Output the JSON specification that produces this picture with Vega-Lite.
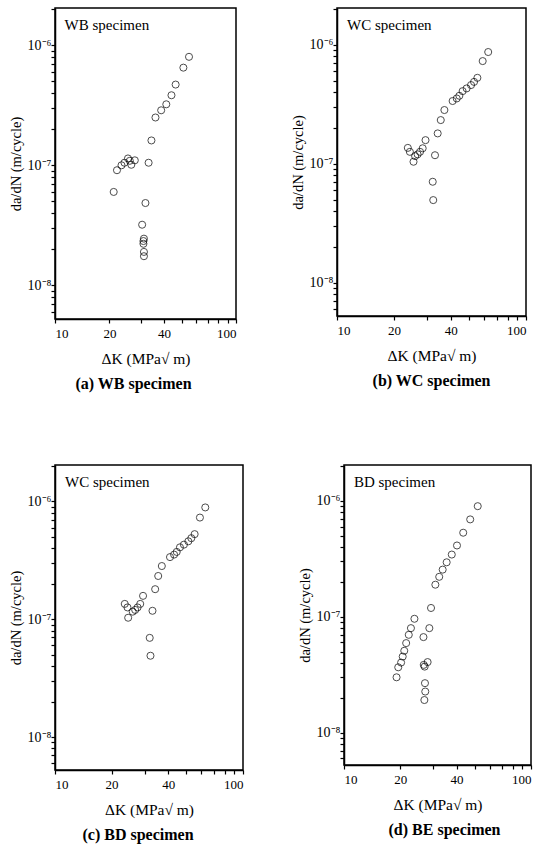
{
  "$schema": "https://vega.github.io/schema/vega-lite/v6.json",
  "background": "white",
  "padding": {"left": 7, "top": 7, "right": 5, "bottom": 5},
  "datasets": {
    "pts": [
      {"p": "a", "dK": 21.1, "rate": 6.0e-8},
      {"p": "a", "dK": 22.0, "rate": 9.1e-8},
      {"p": "a", "dK": 23.3, "rate": 1.0e-7},
      {"p": "a", "dK": 24.2, "rate": 1.05e-7},
      {"p": "a", "dK": 25.3, "rate": 1.14e-7},
      {"p": "a", "dK": 25.9, "rate": 1.09e-7},
      {"p": "a", "dK": 26.4, "rate": 1.01e-7},
      {"p": "a", "dK": 27.6, "rate": 1.1e-7},
      {"p": "a", "dK": 32.9, "rate": 1.05e-7},
      {"p": "a", "dK": 34.1, "rate": 1.61e-7},
      {"p": "a", "dK": 35.9, "rate": 2.5e-7},
      {"p": "a", "dK": 38.6, "rate": 2.87e-7},
      {"p": "a", "dK": 41.2, "rate": 3.22e-7},
      {"p": "a", "dK": 44.0, "rate": 3.83e-7},
      {"p": "a", "dK": 46.4, "rate": 4.7e-7},
      {"p": "a", "dK": 51.2, "rate": 6.5e-7},
      {"p": "a", "dK": 55.0, "rate": 8.0e-7},
      {"p": "a", "dK": 31.6, "rate": 4.85e-8},
      {"p": "a", "dK": 30.3, "rate": 3.2e-8},
      {"p": "a", "dK": 31.0, "rate": 2.45e-8},
      {"p": "a", "dK": 30.8, "rate": 2.34e-8},
      {"p": "a", "dK": 30.8, "rate": 2.22e-8},
      {"p": "a", "dK": 31.0, "rate": 1.9e-8},
      {"p": "a", "dK": 31.0, "rate": 1.75e-8},

      {"p": "b", "dK": 23.7, "rate": 1.36e-7},
      {"p": "b", "dK": 24.3, "rate": 1.26e-7},
      {"p": "b", "dK": 25.4, "rate": 1.04e-7},
      {"p": "b", "dK": 25.9, "rate": 1.16e-7},
      {"p": "b", "dK": 26.7, "rate": 1.2e-7},
      {"p": "b", "dK": 27.5, "rate": 1.26e-7},
      {"p": "b", "dK": 28.4, "rate": 1.35e-7},
      {"p": "b", "dK": 29.4, "rate": 1.58e-7},
      {"p": "b", "dK": 33.0, "rate": 1.18e-7},
      {"p": "b", "dK": 32.1, "rate": 7.06e-8},
      {"p": "b", "dK": 32.3, "rate": 4.95e-8},
      {"p": "b", "dK": 34.1, "rate": 1.8e-7},
      {"p": "b", "dK": 35.4, "rate": 2.33e-7},
      {"p": "b", "dK": 37.0, "rate": 2.83e-7},
      {"p": "b", "dK": 40.9, "rate": 3.37e-7},
      {"p": "b", "dK": 43.0, "rate": 3.54e-7},
      {"p": "b", "dK": 44.4, "rate": 3.73e-7},
      {"p": "b", "dK": 46.2, "rate": 4.08e-7},
      {"p": "b", "dK": 48.5, "rate": 4.3e-7},
      {"p": "b", "dK": 51.2, "rate": 4.59e-7},
      {"p": "b", "dK": 53.1, "rate": 4.88e-7},
      {"p": "b", "dK": 55.3, "rate": 5.28e-7},
      {"p": "b", "dK": 59.0, "rate": 7.3e-7},
      {"p": "b", "dK": 63.1, "rate": 8.7e-7},

      {"p": "c", "dK": 23.5, "rate": 1.35e-7},
      {"p": "c", "dK": 24.3, "rate": 1.26e-7},
      {"p": "c", "dK": 24.5, "rate": 1.03e-7},
      {"p": "c", "dK": 25.9, "rate": 1.16e-7},
      {"p": "c", "dK": 26.7, "rate": 1.2e-7},
      {"p": "c", "dK": 27.5, "rate": 1.26e-7},
      {"p": "c", "dK": 28.4, "rate": 1.35e-7},
      {"p": "c", "dK": 29.4, "rate": 1.58e-7},
      {"p": "c", "dK": 33.0, "rate": 1.18e-7},
      {"p": "c", "dK": 31.9, "rate": 6.95e-8},
      {"p": "c", "dK": 32.2, "rate": 4.9e-8},
      {"p": "c", "dK": 34.1, "rate": 1.8e-7},
      {"p": "c", "dK": 35.4, "rate": 2.33e-7},
      {"p": "c", "dK": 37.0, "rate": 2.83e-7},
      {"p": "c", "dK": 40.9, "rate": 3.37e-7},
      {"p": "c", "dK": 43.0, "rate": 3.54e-7},
      {"p": "c", "dK": 44.4, "rate": 3.73e-7},
      {"p": "c", "dK": 46.2, "rate": 4.08e-7},
      {"p": "c", "dK": 48.5, "rate": 4.3e-7},
      {"p": "c", "dK": 51.2, "rate": 4.59e-7},
      {"p": "c", "dK": 53.1, "rate": 4.88e-7},
      {"p": "c", "dK": 55.3, "rate": 5.28e-7},
      {"p": "c", "dK": 59.0, "rate": 7.3e-7},
      {"p": "c", "dK": 63.0, "rate": 8.9e-7},

      {"p": "d", "dK": 19.1, "rate": 3.0e-8},
      {"p": "d", "dK": 19.5, "rate": 3.66e-8},
      {"p": "d", "dK": 20.2, "rate": 4.02e-8},
      {"p": "d", "dK": 20.6, "rate": 4.53e-8},
      {"p": "d", "dK": 21.0, "rate": 5.08e-8},
      {"p": "d", "dK": 21.5, "rate": 5.92e-8},
      {"p": "d", "dK": 22.2, "rate": 6.98e-8},
      {"p": "d", "dK": 22.8, "rate": 7.97e-8},
      {"p": "d", "dK": 23.8, "rate": 9.6e-8},
      {"p": "d", "dK": 26.6, "rate": 6.67e-8},
      {"p": "d", "dK": 28.6, "rate": 7.97e-8},
      {"p": "d", "dK": 29.2, "rate": 1.19e-7},
      {"p": "d", "dK": 26.7, "rate": 3.84e-8},
      {"p": "d", "dK": 27.0, "rate": 3.71e-8},
      {"p": "d", "dK": 28.0, "rate": 4.06e-8},
      {"p": "d", "dK": 27.1, "rate": 2.67e-8},
      {"p": "d", "dK": 27.2, "rate": 2.26e-8},
      {"p": "d", "dK": 26.9, "rate": 1.91e-8},
      {"p": "d", "dK": 30.8, "rate": 1.89e-7},
      {"p": "d", "dK": 32.3, "rate": 2.21e-7},
      {"p": "d", "dK": 33.7, "rate": 2.55e-7},
      {"p": "d", "dK": 35.4, "rate": 2.95e-7},
      {"p": "d", "dK": 37.7, "rate": 3.44e-7},
      {"p": "d", "dK": 40.2, "rate": 4.12e-7},
      {"p": "d", "dK": 43.4, "rate": 5.31e-7},
      {"p": "d", "dK": 47.3, "rate": 6.92e-7},
      {"p": "d", "dK": 51.9, "rate": 9.0e-7}
    ]
  },
  "config": {
    "font": "Liberation Serif",
    "view": {"stroke": "black", "strokeWidth": 1.5},
    "axis": {
      "grid": false,
      "ticks": true,
      "zindex": 1,
      "domainColor": "black",
      "domainWidth": 1.5,
      "tickColor": "black",
      "tickWidth": 1.2,
      "tickSize": 4,
      "labelFont": "Liberation Serif",
      "labelColor": "black",
      "titleFont": "Liberation Serif",
      "titleColor": "black",
      "titleFontWeight": "normal"
    },
    "axisX": {"labelPadding": 4, "titlePadding": 11, "labelFontSize": 13, "titleFontSize": 15.5},
    "axisY": {"labelPadding": 0, "titlePadding": 4, "labelFontSize": 14, "titleFontSize": 14.5},
    "title": {"font": "Liberation Serif", "fontSize": 16, "fontWeight": "bold", "color": "black"}
  },
  "vconcat": [
    {
      "hconcat": [
        {
          "width": 181, "height": 311,
          "title": {"text": "(a) WB specimen", "orient": "bottom", "frame": "group", "dx": -12, "offset": 9},
          "layer": [
            {
              "data": {"name": "pts"},
              "transform": [{"filter": "datum.p == 'a'"}],
              "mark": {"type": "point", "shape": "circle", "filled": false, "stroke": "black", "strokeWidth": 1, "size": 50},
              "encoding": {
                "x": {"field": "dK", "type": "quantitative", "scale": {"type": "log", "domain": [10, 100], "nice": false},
                  "axis": {"title": "ΔK (MPa√ m)", "values": [10, 20, 30, 40, 50, 60, 70, 80, 90, 100], "labelExpr": "indexof([10,20,40,100], datum.value) >= 0 ? datum.value : ''"}},
                "y": {"field": "rate", "type": "quantitative", "scale": {"type": "log", "domain": [5.25e-9, 2.04e-6], "nice": false},
                  "axis": {"title": "da/dN (m/cycle)", "values": [6e-9, 7e-9, 8e-9, 9e-9, 1e-8, 2e-8, 3e-8, 4e-8, 5e-8, 6e-8, 7e-8, 8e-8, 9e-8, 1e-7, 2e-7, 3e-7, 4e-7, 5e-7, 6e-7, 7e-7, 8e-7, 9e-7, 1e-6, 2e-6], "labelExpr": "abs(datum.value - 1e-8) < 1e-10 ? '10⁻⁸' : abs(datum.value - 1e-7) < 1e-9 ? '10⁻⁷' : abs(datum.value - 1e-6) < 1e-8 ? '10⁻⁶' : ''"}}
              }
            },
            {
              "data": {"values": [{"label": "WB specimen"}]},
              "mark": {"type": "text", "align": "left", "baseline": "middle", "fontSize": 15, "color": "black"},
              "encoding": {"x": {"datum": 11.3}, "y": {"datum": 1.47e-6}, "text": {"field": "label"}}
            }
          ]
        },
        {
          "width": 189, "height": 308,
          "title": {"text": "(b) WC specimen", "orient": "bottom", "frame": "group", "dx": 0, "offset": 9},
          "layer": [
            {
              "data": {"name": "pts"},
              "transform": [{"filter": "datum.p == 'b'"}],
              "mark": {"type": "point", "shape": "circle", "filled": false, "stroke": "black", "strokeWidth": 1, "size": 50},
              "encoding": {
                "x": {"field": "dK", "type": "quantitative", "scale": {"type": "log", "domain": [10, 100], "nice": false},
                  "axis": {"title": "ΔK (MPa√ m)", "values": [10, 20, 30, 40, 50, 60, 70, 80, 90, 100], "labelExpr": "indexof([10,20,40,100], datum.value) >= 0 ? datum.value : ''"}},
                "y": {"field": "rate", "type": "quantitative", "scale": {"type": "log", "domain": [5.25e-9, 2.04e-6], "nice": false},
                  "axis": {"title": "da/dN (m/cycle)", "values": [6e-9, 7e-9, 8e-9, 9e-9, 1e-8, 2e-8, 3e-8, 4e-8, 5e-8, 6e-8, 7e-8, 8e-8, 9e-8, 1e-7, 2e-7, 3e-7, 4e-7, 5e-7, 6e-7, 7e-7, 8e-7, 9e-7, 1e-6, 2e-6], "labelExpr": "abs(datum.value - 1e-8) < 1e-10 ? '10⁻⁸' : abs(datum.value - 1e-7) < 1e-9 ? '10⁻⁷' : abs(datum.value - 1e-6) < 1e-8 ? '10⁻⁶' : ''"}}
              }
            },
            {
              "data": {"values": [{"label": "WC specimen"}]},
              "mark": {"type": "text", "align": "left", "baseline": "middle", "fontSize": 15, "color": "black"},
              "encoding": {"x": {"datum": 11.3}, "y": {"datum": 1.47e-6}, "text": {"field": "label"}}
            }
          ]
        }
      ],
      "spacing": 51
    },
    {
      "hconcat": [
        {
          "width": 188, "height": 305,
          "title": {"text": "(c) BD specimen", "orient": "bottom", "frame": "group", "dx": -11, "offset": 9},
          "layer": [
            {
              "data": {"name": "pts"},
              "transform": [{"filter": "datum.p == 'c'"}],
              "mark": {"type": "point", "shape": "circle", "filled": false, "stroke": "black", "strokeWidth": 1, "size": 50},
              "encoding": {
                "x": {"field": "dK", "type": "quantitative", "scale": {"type": "log", "domain": [10, 100], "nice": false},
                  "axis": {"title": "ΔK (MPa√ m)", "values": [10, 20, 30, 40, 50, 60, 70, 80, 90, 100], "labelExpr": "indexof([10,20,40,100], datum.value) >= 0 ? datum.value : ''"}},
                "y": {"field": "rate", "type": "quantitative", "scale": {"type": "log", "domain": [5.25e-9, 2.04e-6], "nice": false},
                  "axis": {"title": "da/dN (m/cycle)", "values": [6e-9, 7e-9, 8e-9, 9e-9, 1e-8, 2e-8, 3e-8, 4e-8, 5e-8, 6e-8, 7e-8, 8e-8, 9e-8, 1e-7, 2e-7, 3e-7, 4e-7, 5e-7, 6e-7, 7e-7, 8e-7, 9e-7, 1e-6, 2e-6], "labelExpr": "abs(datum.value - 1e-8) < 1e-10 ? '10⁻⁸' : abs(datum.value - 1e-7) < 1e-9 ? '10⁻⁷' : abs(datum.value - 1e-6) < 1e-8 ? '10⁻⁶' : ''"}}
              }
            },
            {
              "data": {"values": [{"label": "WC specimen"}]},
              "mark": {"type": "text", "align": "left", "baseline": "middle", "fontSize": 15, "color": "black"},
              "encoding": {"x": {"datum": 11.3}, "y": {"datum": 1.45e-6}, "text": {"field": "label"}}
            }
          ]
        },
        {
          "width": 187, "height": 300,
          "title": {"text": "(d) BE specimen", "orient": "bottom", "frame": "group", "dx": 7, "offset": 9},
          "layer": [
            {
              "data": {"name": "pts"},
              "transform": [{"filter": "datum.p == 'd'"}],
              "mark": {"type": "point", "shape": "circle", "filled": false, "stroke": "black", "strokeWidth": 1, "size": 50},
              "encoding": {
                "x": {"field": "dK", "type": "quantitative", "scale": {"type": "log", "domain": [10, 100], "nice": false},
                  "axis": {"title": "ΔK (MPa√ m)", "values": [10, 20, 30, 40, 50, 60, 70, 80, 90, 100], "labelExpr": "indexof([10,20,40,100], datum.value) >= 0 ? datum.value : ''"}},
                "y": {"field": "rate", "type": "quantitative", "scale": {"type": "log", "domain": [5.25e-9, 2.04e-6], "nice": false},
                  "axis": {"title": "da/dN (m/cycle)", "values": [6e-9, 7e-9, 8e-9, 9e-9, 1e-8, 2e-8, 3e-8, 4e-8, 5e-8, 6e-8, 7e-8, 8e-8, 9e-8, 1e-7, 2e-7, 3e-7, 4e-7, 5e-7, 6e-7, 7e-7, 8e-7, 9e-7, 1e-6, 2e-6], "labelExpr": "abs(datum.value - 1e-8) < 1e-10 ? '10⁻⁸' : abs(datum.value - 1e-7) < 1e-9 ? '10⁻⁷' : abs(datum.value - 1e-6) < 1e-8 ? '10⁻⁶' : ''"}}
              }
            },
            {
              "data": {"values": [{"label": "BD specimen"}]},
              "mark": {"type": "text", "align": "left", "baseline": "middle", "fontSize": 15, "color": "black"},
              "encoding": {"x": {"datum": 11.3}, "y": {"datum": 1.46e-6}, "text": {"field": "label"}}
            }
          ]
        }
      ],
      "spacing": 51
    }
  ],
  "spacing": 71,
  "resolve": {"scale": {"x": "independent", "y": "independent"}}
}
